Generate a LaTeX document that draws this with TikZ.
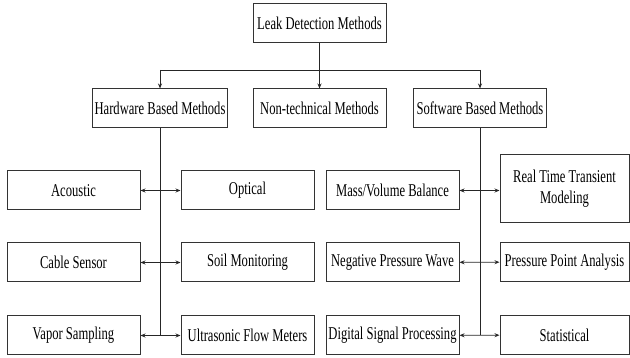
\documentclass[tikz,border=0pt]{standalone}
\usepackage{fontspec}
\setmainfont{Liberation Serif}[FakeStretch=0.7]
\usetikzlibrary{arrows.meta, positioning}

\begin{document}
\begin{tikzpicture}[x=1pt, y=-1pt,
    box/.style={rectangle, draw=black!80, line width=1pt, minimum width=133pt, minimum height=39pt, inner sep=2pt, align=center, font=\fontsize{18}{21}\selectfont},
    link/.style={draw=black!85, line width=0.8pt},
    arrow/.style={link, -{Stealth[length=5pt, width=4pt]}},
    twoway/.style={link, {Stealth[length=5pt, width=4pt]}-{Stealth[length=5pt, width=4pt]}}
]
    \useasboundingbox (0,0) rectangle (630,358);

    \node[box] (root) at (319.5,23.5) {Leak Detection Methods};

    \node[box] (hardware) at (160,108.5) {Hardware Based Methods};
    \node[box] (nontech) at (319.5,108.5) {Non-technical Methods};
    \node[box] (software) at (480,108.5) {Software Based Methods};

    % hardware side
    \node[box] (acoustic) at (73.5,190.5) {Acoustic};
    \node[box, right=40pt of acoustic] (optical) {Optical};
    \node[box, below=32pt of acoustic] (cable) {Cable Sensor};
    \node[box, right=40pt of cable] (soil) {Soil Monitoring};
    \node[box, below=33pt of cable] (vapor) {Vapor Sampling};
    \node[box, right=40pt of vapor] (ultra) {Ultrasonic Flow Meters};

    % software side
    \node[box] (mass) at (392.5,190.5) {Mass/Volume Balance};
    \node[box, minimum width=129pt, minimum height=68pt] (rtt) at (564.5,189) {Real Time Transient\\ Modeling};
    \node[box, below=32pt of mass] (npw) {Negative Pressure Wave};
    \node[box, minimum width=129pt] (ppa) at (564.5,262) {Pressure Point Analysis};
    \node[box, below=33pt of npw] (dsp) {Digital Signal Processing};
    \node[box, minimum width=129pt] (stat) at (564.5,335) {Statistical};

    \coordinate (split) at (319.5,70);
    \coordinate (hwTurn) at (160,70);
    \coordinate (swTurn) at (480,70);
    \coordinate (hwEnd) at (160,335);
    \coordinate (swEnd) at (480,335);

    \draw[link] (root) -- (split);
    \draw[link] (hwTurn) -- (swTurn);
    \draw[arrow] (hwTurn) -- (hardware);
    \draw[arrow] (split) -- (nontech);
    \draw[arrow] (swTurn) -- (software);

    \draw[link] (hardware) -- (hwEnd);
    \draw[link] (software) -- (swEnd);

    \draw[twoway] (acoustic) -- (optical);
    \draw[twoway] (cable) -- (soil);
    \draw[twoway] (vapor) -- (ultra);
    \draw[twoway] (mass.east) -- (mass.east -| rtt.west);
    \draw[twoway] (npw) -- (ppa);
    \draw[twoway] (dsp) -- (stat);
\end{tikzpicture}
\end{document}
